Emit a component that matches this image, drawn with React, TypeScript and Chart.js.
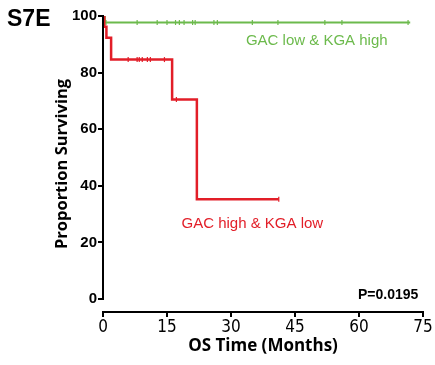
import React, { useEffect, useRef } from "react";
import { Chart, registerables } from "chart.js";

Chart.register(...registerables);

// Kaplan-Meier steps (months, % surviving)
const redTimes = [0, 0.3, 0.8, 1.9, 16.2, 22.0, 41.2];
const redSurv = [100, 96.2, 92.3, 84.6, 70.5, 35.2, 35.2];
const greenTimes = [0, 0.4, 72.0];
const greenSurv = [100, 97.7, 97.7];

// censor marks
const redCensorTimes = [5.9, 8.0, 8.5, 9.2, 10.4, 11.1, 14.4, 17.2, 41.2];
const redCensorSurv = [84.6, 84.6, 84.6, 84.6, 84.6, 84.6, 84.6, 70.5, 35.2];
const greenCensorTimes = [0.7, 8, 12.7, 15, 17, 17.9, 19, 21, 21.6, 26, 26.8, 35, 41, 52, 56, 71.5];

const xTicks = [0, 15, 30, 45, 60, 75];
const yTicks = [0, 20, 40, 60, 80, 100];

const GREEN = "rgb(108,186,76)";
const RED = "rgb(226,30,40)";

export default function App() {
  const ref = useRef<HTMLCanvasElement | null>(null);

  useEffect(() => {
    if (!ref.current) return;

    const overlay = {
      id: "overlay",
      afterDraw(chart: any) {
        const { ctx, chartArea, scales } = chart;
        const x = scales.x;
        const y = scales.y;
        ctx.save();
        // y axis line from 0 to 100
        ctx.strokeStyle = "#000";
        ctx.lineWidth = 2;
        ctx.beginPath();
        ctx.moveTo(chartArea.left, y.getPixelForValue(100) - 1);
        ctx.lineTo(chartArea.left, y.getPixelForValue(0) + 1);
        ctx.stroke();

        ctx.textBaseline = "middle";
        // panel label
        ctx.fillStyle = "#000";
        ctx.font = "bold 23px 'Liberation Sans', Arial, sans-serif";
        ctx.textAlign = "left";
        ctx.fillText("S7E", 7, 20);

        ctx.font = "15px 'Liberation Sans', Arial, sans-serif";
        ctx.textAlign = "center";
        ctx.fillStyle = GREEN;
        ctx.fillText("GAC low & KGA high", x.getPixelForValue(50.1), y.getPixelForValue(91.2));
        ctx.fillStyle = RED;
        ctx.fillText("GAC high & KGA low", x.getPixelForValue(35), y.getPixelForValue(26.5));

        ctx.fillStyle = "#000";
        ctx.font = "bold 14px 'Liberation Sans', Arial, sans-serif";
        ctx.textAlign = "right";
        ctx.fillText("P=0.0195", x.getPixelForValue(73.9), y.getPixelForValue(1.4));
        ctx.restore();
      },
    };

    const chart = new Chart(ref.current, {
      type: "line",
      data: {
        datasets: [
          {
            label: "GAC high & KGA low",
            data: redTimes.map((t, i) => ({ x: t, y: redSurv[i] })),
            borderColor: RED,
            borderWidth: 2.5,
            stepped: true,
            pointRadius: 0,
            fill: false,
          },
          {
            label: "GAC low & KGA high",
            data: greenTimes.map((t, i) => ({ x: t, y: greenSurv[i] })),
            borderColor: GREEN,
            borderWidth: 2.2,
            stepped: true,
            pointRadius: 0,
            fill: false,
          },
          {
            label: "red censored",
            data: redCensorTimes.map((t, i) => ({ x: t, y: redCensorSurv[i] })),
            showLine: false,
            pointStyle: "line",
            rotation: 90,
            pointRadius: 2.5,
            borderColor: RED,
            pointBorderWidth: 1.2,
          },
          {
            label: "green censored",
            data: greenCensorTimes.map((t) => ({ x: t, y: 97.7 })),
            showLine: false,
            pointStyle: "line",
            rotation: 90,
            pointRadius: 2.5,
            borderColor: GREEN,
            pointBorderWidth: 1.2,
          },
        ],
      },
      options: {
        animation: false,
        responsive: false,
        maintainAspectRatio: false,
        layout: { padding: { left: 45, right: 12, top: 16, bottom: 0 } },
        plugins: { legend: { display: false }, tooltip: { enabled: false } },
        scales: {
          x: {
            type: "linear",
            min: 0,
            max: 75,
            afterBuildTicks: (s: any) => {
              s.ticks = xTicks.map((v) => ({ value: v }));
            },
            afterFit: (s: any) => {
              s.height = 53;
            },
            border: { display: true, color: "#000", width: 2 },
            grid: { drawOnChartArea: false, drawTicks: true, tickLength: 5, color: "#000", lineWidth: 2 },
            ticks: {
              color: "#000",
              padding: 0,
              maxRotation: 0,
              font: { family: "'Liberation Sans Narrow', 'DejaVu Sans Condensed', sans-serif", size: 17 },
            },
            title: {
              display: true,
              text: "OS Time (Months)",
              color: "#000",
              font: { family: "'Open Sans', sans-serif", size: 17, weight: "bold" },
              padding: { top: 0, bottom: 9 },
            },
          },
          y: {
            type: "linear",
            min: -4.6,
            max: 100,
            afterBuildTicks: (s: any) => {
              s.ticks = yTicks.map((v) => ({ value: v }));
            },
            afterFit: (s: any) => {
              s.width = 58;
            },
            border: { display: false },
            grid: { drawOnChartArea: false, drawTicks: true, tickLength: 5, color: "#000", lineWidth: 2 },
            ticks: {
              color: "#000",
              padding: 1,
              font: { family: "'Liberation Sans', Arial, sans-serif", size: 15, weight: "bold" },
            },
            title: {
              display: true,
              text: "Proportion Surviving",
              color: "#000",
              font: { family: "'Open Sans', sans-serif", size: 16.5, weight: "bold" },
              padding: { top: 7, bottom: 0 },
            },
          },
        },
      },
      plugins: [overlay],
    });

    return () => chart.destroy();
  }, []);

  return (
    <div style={{ position: "fixed", left: 0, top: 0, width: 435, height: 365, background: "#fff" }}>
      <canvas ref={ref} width={435} height={365} style={{ display: "block", width: 435, height: 365 }} />
    </div>
  );
}
